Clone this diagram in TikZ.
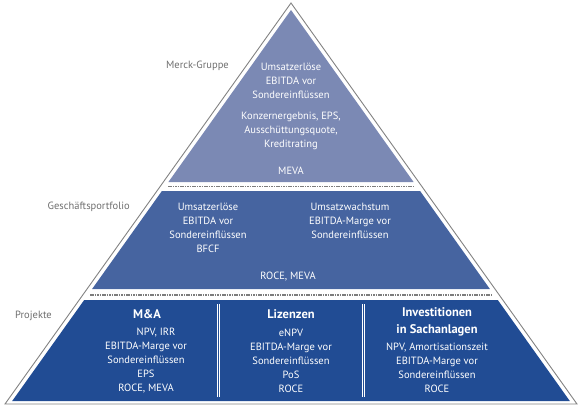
\documentclass[tikz,border=0pt]{standalone}
\usepackage{fontspec}
\setmainfont{PT Sans}
\definecolor{tierA}{RGB}{123,137,180}
\definecolor{tierB}{RGB}{70,100,160}
\definecolor{tierC}{RGB}{33,76,148}
\definecolor{outl}{RGB}{130,130,130}
\definecolor{lab}{RGB}{110,110,110}
\definecolor{dotc}{RGB}{125,125,125}
\tikzset{
  txt/.style={text=white, align=center, inner sep=0pt, font=\fontsize{10.5}{14}\selectfont},
  head/.style={text=white, align=center, inner sep=0pt, font=\fontsize{12.5}{17}\selectfont\bfseries},
  lbl/.style={text=lab, inner sep=0pt, anchor=east, font=\fontsize{10.5}{14}\selectfont},
  sepline/.style={draw=dotc, line width=1.6pt, dash pattern=on 1.6pt off 0.8pt},
  vsep/.style={draw=white, line width=0.8pt},
}
\begin{document}
\begin{tikzpicture}[x=1pt,y=-1pt]
\useasboundingbox (0,0) rectangle (580,407);
% outline
\draw[outl, line width=0.9pt] (291,3) -- (5,404) -- (577,404) -- cycle;
% tiers
\fill[tierA] (291,10) -- (168.4,182) -- (413.6,182) -- cycle;
\fill[tierB] (161.9,191) -- (420.1,191) -- (489.9,289) -- (92.1,289) -- cycle;
\fill[tierC] (84.2,300) -- (497.8,300) -- (569.8,401) -- (12.2,401) -- cycle;
% dotted separators
\coordinate (d1a) at (168,186.5); \coordinate (d1b) at (414,186.5);
\coordinate (d2a) at (90,295); \coordinate (d2b) at (492,295);
\draw[sepline] (d1a) -- (d1b);
\draw[sepline] (d2a) -- (d2b);
% vertical double separators
\coordinate (s1t) at (218.3,304); \coordinate (s1b) at (218.3,397);
\coordinate (s2t) at (363.3,304); \coordinate (s2b) at (363.3,397);
\draw[vsep] ([xshift=-1.2pt]s1t) -- ([xshift=-1.2pt]s1b);
\draw[vsep] ([xshift=1.2pt]s1t) -- ([xshift=1.2pt]s1b);
\draw[vsep] ([xshift=-1.2pt]s2t) -- ([xshift=-1.2pt]s2b);
\draw[vsep] ([xshift=1.2pt]s2t) -- ([xshift=1.2pt]s2b);
% left labels
\node[lbl] (l1) at (229,66) {Merck-Gruppe};
\node[lbl] (l2) at (130,207) {Geschäftsportfolio};
\node[lbl] (l3) at (52,316) {Projekte};
% top tier
\node[txt] (t1) at (291,81) {Umsatzerlöse\\EBITDA vor\\Sondereinflüssen};
\node[txt] (t2) at (291,131) {Konzernergebnis, EPS,\\Ausschüttungsquote,\\Kreditrating};
\node[txt] (t3) at (291,171) {MEVA};
% middle tier
\node[txt] (m1) at (208,228) {Umsatzerlöse\\EBITDA vor\\Sondereinflüssen\\BFCF};
\node[txt] (m2) at (350,221) {Umsatzwachstum\\EBITDA-Marge vor\\Sondereinflüssen};
\node[txt] (m3) at (288,277) {ROCE, MEVA};
% bottom tier
\node[head] (h1) at (147,314) {M\&A};
\node[head] (h2) at (291,314) {Lizenzen};
\node[head] (h3) at (437,321.5) {Investitionen\\in Sachanlagen};
\node[txt] (b1) at (146,361) {\hspace*{20pt}NPV, IRR\\EBITDA-Marge vor\\Sondereinflüssen\\EPS\\ROCE, MEVA};
\node[txt] (b2) at (291,361) {eNPV\\EBITDA-Marge vor\\Sondereinflüssen\\PoS\\ROCE};
\node[txt] (b3) at (437,368) {NPV, Amortisationszeit\\EBITDA-Marge vor\\Sondereinflüssen\\ROCE};
\end{tikzpicture}
\end{document}
